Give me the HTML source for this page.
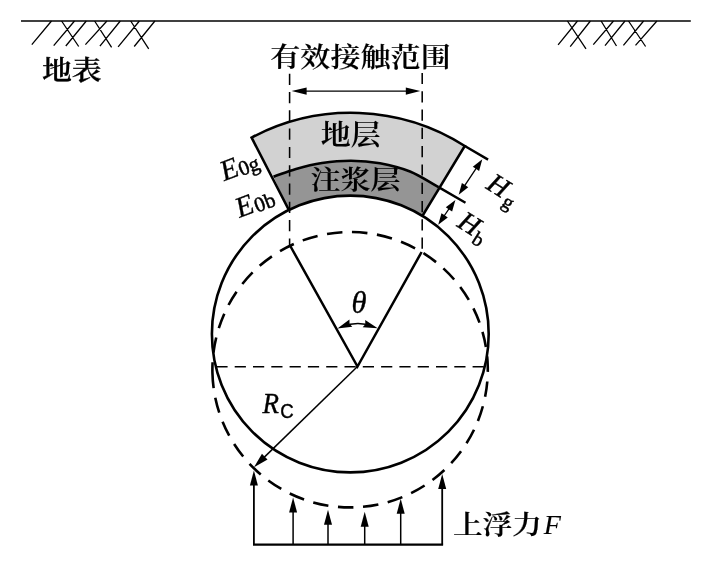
<!DOCTYPE html>
<html lang="zh-CN">
<head>
<meta charset="utf-8">
<title>有效接触范围 上浮力</title>
<style>
html,body{margin:0;padding:0;background:#fff;}
body{width:712px;height:564px;overflow:hidden;}
svg{display:block;will-change:transform;}
</style>
</head>
<body>
<svg width="712" height="564" viewBox="0 0 712 564" role="img" aria-label="有效接触范围示意图">
<rect width="712" height="564" fill="#fff"/>
<g stroke="#000" fill="none" stroke-linecap="butt">
<path d="M21 21H690.8" stroke-width="1.5"/>
<path d="M51.5 21L31.8 44.6 M74.5 21L53.7 45.7 M61.6 21L78.7 46.5 M86.3 21L65.8 46 M94.6 21L111.6 47.3 M106.9 21L85.4 44.6 M120.3 21L99.9 46.2 M130.7 21L148.7 48.8 M139.4 21L118.1 46.9 M154.9 21L134.2 46.5 M567.4 21L586 48.8 M577.5 21L558.1 44.8 M590.4 21L570.2 46.6 M601.1 21L616.5 46 M613.5 21L593.3 44.6 M625 21L605 45.7 M628.5 21L645.6 46.5 M643.6 21L623.4 45.4 M656.9 21L635.5 45.4" stroke-width="1.3"/>
</g>
<path d="M251.60 137.60 A211.80 211.80 0 0 1 464.80 146.00 L438.57 187.13 C429.05 181.94 419.76 175.53 410.00 171.56 C400.24 167.59 389.83 165.10 380.00 163.30 C370.17 161.50 360.67 160.79 351.00 160.75 C341.33 160.71 331.17 161.71 322.00 163.08 C312.83 164.45 304.08 166.67 296.00 168.95 C287.92 171.22 281.00 174.14 273.50 176.73 Z" fill="#d2d2d2"/>
<path d="M273.50 176.73 C281.00 174.14 287.92 171.22 296.00 168.95 C304.08 166.67 312.83 164.45 322.00 163.08 C331.17 161.71 341.33 160.71 351.00 160.75 C360.67 160.79 370.17 161.50 380.00 163.30 C389.83 165.10 400.24 167.59 410.00 171.56 C419.76 175.53 429.05 181.94 438.57 187.13 L422.46 215.90 L350.30 334.00 L288.86 209.99 Z" fill="#959595"/>
<circle cx="350.3" cy="334" r="138.4" fill="#fff"/>
<g fill="#000" font-family="'Liberation Serif','Noto Serif CJK SC',serif">
<text transform="translate(320.75 145.3) scale(1 0.93)" font-size="29.95" font-weight="600" stroke="#000" stroke-width="0.15">地层</text>
<text transform="translate(310.5 189.2) scale(1 0.89)" font-size="30" font-weight="600" stroke="#000" stroke-width="0.15">注浆层</text>
</g>
<g stroke="#000" fill="none" stroke-width="2.6" stroke-linejoin="miter">
<circle cx="350.3" cy="334" r="138.4"/>
<path d="M288.86 209.99 L251.60 137.60 A211.80 211.80 0 0 1 464.80 146.00 L422.46 215.90"/>
<path d="M273.50 176.73 C281.00 174.14 287.92 171.22 296.00 168.95 C304.08 166.67 312.83 164.45 322.00 163.08 C331.17 161.71 341.33 160.71 351.00 160.75 C360.67 160.79 370.17 161.50 380.00 163.30 C389.83 165.10 400.24 167.59 410.00 171.56 C419.76 175.53 429.05 181.94 438.57 187.13"/>
</g>
<path d="M212.43 372.70 A137.7 137.7 0 1 0 487.77 366.70 A137.7 137.7 0 1 0 212.43 372.70" fill="none" stroke="#000" stroke-width="2.6" stroke-dasharray="15.5 9.63"/>
<g stroke="#000" fill="none" stroke-width="1.55" stroke-dasharray="11.2 7.1">
<path d="M289.6 73.7V246"/>
<path d="M422.2 72.9V251"/>
<path d="M216.4 366.7H488"/>
</g>
<g stroke="#000" fill="none">
<path d="M290.3 246L357.5 366.5L421.6 252" stroke-width="2.5" stroke-linejoin="miter"/>
<path d="M357.5 366.5L260 461.4" stroke-width="1.5"/>
<path d="M342.4 326.4 A43 43 0 0 1 372.7 326.1" stroke-width="1.5"/>
<path d="M300 91.1H412" stroke-width="1.4"/>
<path d="M253 544.7H443.1" stroke-width="2.3"/>
<path d="M253.9 544.7V476.4" stroke-width="1.8"/>
<path d="M293.1 544.7V503.5" stroke-width="1.5"/>
<path d="M328 544.7V515.8" stroke-width="1.5"/>
<path d="M364.7 544.7V517.7" stroke-width="1.5"/>
<path d="M400.7 544.7V504.7" stroke-width="1.5"/>
<path d="M442.2 544.7V480" stroke-width="1.8"/>
<path d="M464.80 146.00 L488.1 159.6 M438.57 187.13 L465.5 202.7" stroke-width="2.4"/>
<path d="M479 164.2L462 189.7 M452.2 204.2L441 220.5" stroke-width="1.3"/>
</g>
<g fill="#000" stroke="none">
<path d="M291.60 91.10 L306.60 87.40 L306.60 91.10 L306.60 94.80 Z"/>
<path d="M420.30 91.10 L405.80 94.80 L405.80 91.10 L405.80 87.40 Z"/>
<path d="M253.90 470.40 L257.90 485.40 L253.90 485.40 L249.90 485.40 Z"/>
<path d="M293.10 497.50 L297.10 512.50 L293.10 512.50 L289.10 512.50 Z"/>
<path d="M328.00 509.80 L332.00 524.80 L328.00 524.80 L324.00 524.80 Z"/>
<path d="M364.70 511.70 L368.70 526.70 L364.70 526.70 L360.70 526.70 Z"/>
<path d="M400.70 498.70 L404.70 513.70 L400.70 513.70 L396.70 513.70 Z"/>
<path d="M442.20 474.00 L446.20 489.00 L442.20 489.00 L438.20 489.00 Z"/>
<path d="M254.00 467.20 L261.96 453.87 L264.75 456.74 L267.54 459.61 Z"/>
<path d="M337.40 328.60 L349.43 319.62 L349.53 323.78 L352.31 326.86 Z"/>
<path d="M377.70 328.30 L362.71 327.37 L365.33 324.13 L365.20 319.98 Z"/>
<path d="M482.30 159.20 L479.10 170.88 L475.93 168.78 L472.77 166.67 Z"/>
<path d="M458.70 194.70 L461.90 183.02 L465.07 185.12 L468.23 187.23 Z"/>
<path d="M455.40 199.90 L452.12 211.56 L448.97 209.43 L445.82 207.31 Z"/>
<path d="M438.20 224.80 L441.48 213.14 L444.63 215.27 L447.78 217.39 Z"/>
</g>
<g fill="#000" font-family="'Liberation Serif','Noto Serif CJK SC',serif">
<text transform="translate(41.9 80.1) scale(1 0.92)" font-size="29.9" font-weight="600" stroke="#000" stroke-width="0.28">地表</text>
<text transform="translate(270.3 66.5) scale(1 0.9)" font-size="30.08" font-weight="600" stroke="#000" stroke-width="0.15">有效接触范围</text>
<text transform="translate(452.9 534) scale(1 0.89)" font-size="29.65" font-weight="600" stroke="#000" stroke-width="0.22">上浮力</text>
<text x="543.8" y="533.8" font-size="28" font-style="italic" stroke="#000" stroke-width="0.1">F</text>
<text x="351.6" y="312.6" font-size="30.5" font-style="italic" stroke="#000" stroke-width="0.35">θ</text>
<text x="262.6" y="412.6" font-size="29" font-style="italic" stroke="#000" stroke-width="0.35" transform="translate(262.6 0) scale(0.93 1) translate(-262.6 0)">R<tspan font-style="normal" font-family="'Liberation Sans',sans-serif" font-size="20" stroke-width="0.4" dy="5.6" dx="1.4">C</tspan></text>
<text transform="translate(224.2 181.2) rotate(-21)" font-size="29"><tspan font-style="italic" stroke="#000" stroke-width="0.3">E</tspan><tspan font-size="21" stroke="#000" stroke-width="0.5" dy="1.5" dx="0.3">0g</tspan></text>
<text transform="translate(239.5 218) rotate(-21)" font-size="29"><tspan font-style="italic" stroke="#000" stroke-width="0.3">E</tspan><tspan font-size="21" stroke="#000" stroke-width="0.5" dy="1.5" dx="0.8">0b</tspan></text>
<text transform="translate(485 188) rotate(32)" font-size="28" font-style="italic" stroke="#000" stroke-width="0.45">H<tspan font-style="normal" font-size="20" dy="6" dx="2.2">g</tspan></text>
<text transform="translate(456 226) rotate(32)" font-size="28" font-style="italic" stroke="#000" stroke-width="0.45">H<tspan font-style="normal" font-size="20" dy="6" dx="0.6">b</tspan></text>
</g>
</svg>
</body>
</html>
